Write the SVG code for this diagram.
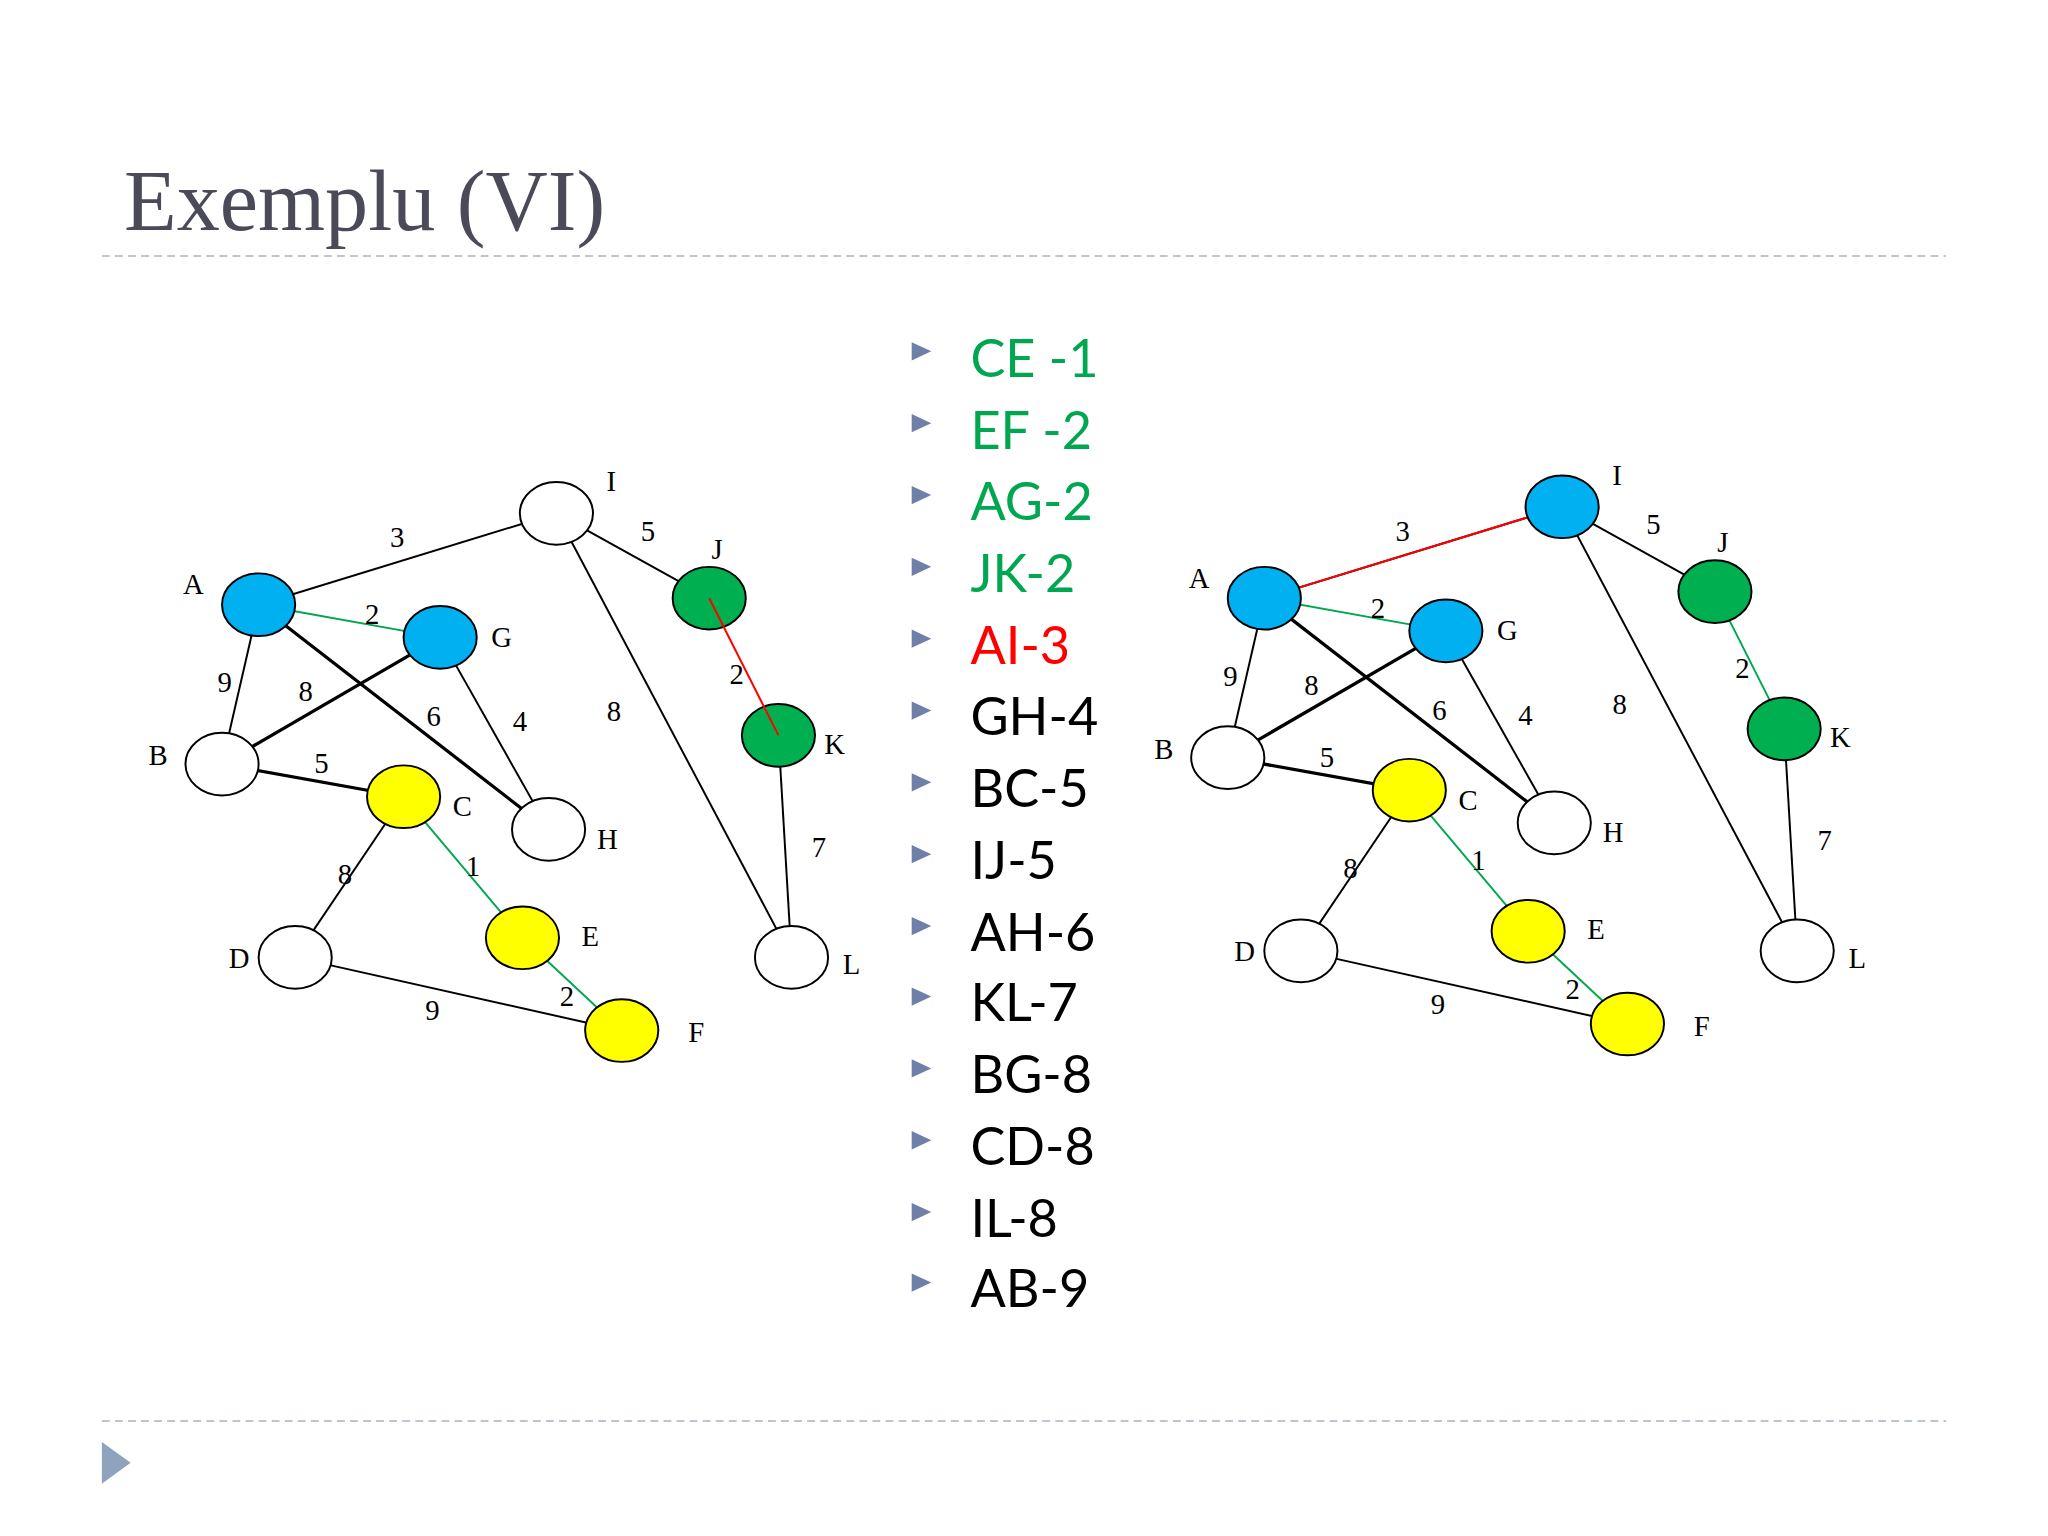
<svg xmlns="http://www.w3.org/2000/svg" width="2048" height="1536" viewBox="0 0 2048 1536">
<defs>
<style>
.n{stroke:#000;stroke-width:1.5}
.w{fill:#fff}.b{fill:#00b0f0}.y{fill:#ffff00}.g{fill:#00b050}
.e{stroke:#000;stroke-width:1.5;fill:none}
.t{stroke-width:2.5}
.eg{stroke:#00a650}.er{stroke:#ff0000}
.lb{font-family:"Liberation Serif",serif;font-size:22px;fill:#000}
.li{font-family:Lato,"Liberation Sans",sans-serif;font-size:40px}
.tri{fill:#6e7fa8}
</style>
<g id="graph">
<g id="edges">
<line class="e" x1="198" y1="463" x2="426" y2="393"/>
<line class="e eg" x1="198" y1="463" x2="337" y2="488"/>
<line class="e" x1="198" y1="463" x2="170" y2="585"/>
<line class="e t" x1="198" y1="463" x2="420" y2="635"/>
<line class="e t" x1="337" y1="488" x2="170" y2="585"/>
<line class="e" x1="337" y1="488" x2="420" y2="635"/>
<line class="e t" x1="170" y1="585" x2="309" y2="610"/>
<line class="e" x1="426" y1="393" x2="543" y2="458"/>
<line class="e" x1="426" y1="393" x2="606" y2="733"/>
<line class="e" x1="596" y1="563" x2="606" y2="733"/>
<line class="e" x1="309" y1="610" x2="226" y2="733"/>
<line class="e eg" x1="309" y1="610" x2="400" y2="718"/>
<line class="e eg" x1="400" y1="718" x2="476" y2="789"/>
<line class="e" x1="226" y1="733" x2="476" y2="789"/>
</g>
<g class="lb">
<text x="304" y="419" text-anchor="middle">3</text><text x="496" y="414" text-anchor="middle">5</text>
<text x="285" y="478" text-anchor="middle">2</text><text x="172" y="530" text-anchor="middle">9</text>
<text x="234" y="537" text-anchor="middle">8</text><text x="332" y="556" text-anchor="middle">6</text>
<text x="398" y="560" text-anchor="middle">4</text><text x="470" y="552" text-anchor="middle">8</text>
<text x="564" y="524" text-anchor="middle">2</text><text x="246" y="592" text-anchor="middle">5</text>
<text x="627" y="656" text-anchor="middle">7</text><text x="264" y="677" text-anchor="middle">8</text>
<text x="362" y="671" text-anchor="middle">1</text><text x="331" y="781" text-anchor="middle">9</text>
<text x="434" y="770" text-anchor="middle">2</text>
<text x="468" y="376" text-anchor="middle">I</text><text x="549" y="428" text-anchor="middle">J</text>
<text x="148" y="455" text-anchor="middle">A</text><text x="384" y="495" text-anchor="middle">G</text>
<text x="639" y="577" text-anchor="middle">K</text><text x="121" y="586" text-anchor="middle">B</text>
<text x="354" y="625" text-anchor="middle">C</text><text x="465" y="650" text-anchor="middle">H</text>
<text x="452" y="724" text-anchor="middle">E</text><text x="183" y="741" text-anchor="middle">D</text>
<text x="652" y="746" text-anchor="middle">L</text><text x="533" y="798" text-anchor="middle">F</text>
</g>
</g>
</defs>
<rect width="2048" height="1536" fill="#fff"/>
<g transform="scale(1.30612)">
<text x="95" y="176" font-family="Liberation Serif,serif" font-size="66" fill="#4a4a58">Exemplu (VI)</text>
<line x1="78" y1="196" x2="1490" y2="196" stroke="#a8b2c0" stroke-width="1.2" stroke-dasharray="6,4"/>
<line x1="78" y1="1088" x2="1490" y2="1088" stroke="#a8b2c0" stroke-width="1.2" stroke-dasharray="6,4"/>
<polygon points="78,1104 78,1136 100,1120" fill="#8fa3bf"/>

<g id="left">
<use href="#graph"/>
<g id="lnodes">
<g id="L_A"><ellipse class="n b" cx="198" cy="463" rx="28" ry="24"/></g>
<g id="L_G"><ellipse class="n b" cx="337" cy="488" rx="28" ry="24"/></g>
<g id="L_I"><ellipse class="n w" cx="426" cy="393" rx="28" ry="24"/></g>
<g id="L_J"><ellipse class="n g" cx="543" cy="458" rx="28" ry="24"/></g>
<g id="L_K"><ellipse class="n g" cx="596" cy="563" rx="28" ry="24"/></g>
<g id="L_B"><ellipse class="n w" cx="170" cy="585" rx="28" ry="24"/></g>
<g id="L_C"><ellipse class="n y" cx="309" cy="610" rx="28" ry="24"/></g>
<g id="L_H"><ellipse class="n w" cx="420" cy="635" rx="28" ry="24"/></g>
<g id="L_D"><ellipse class="n w" cx="226" cy="733" rx="28" ry="24"/></g>
<g id="L_E"><ellipse class="n y" cx="400" cy="718" rx="28" ry="24"/></g>
<g id="L_F"><ellipse class="n y" cx="476" cy="789" rx="28" ry="24"/></g>
<g id="L_L"><ellipse class="n w" cx="606" cy="733" rx="28" ry="24"/></g>
</g>
<line class="e er" x1="543" y1="458" x2="596" y2="563" stroke-width="1.5" transform="translate(0,0)"/>
</g>

<g id="right" transform="translate(770,-5)">
<use href="#graph"/>
<line class="e er" x1="198" y1="463" x2="426" y2="393"/>
<line class="e eg" x1="543" y1="458" x2="596" y2="563"/>
<g id="R_A"><ellipse class="n b" cx="198" cy="463" rx="28" ry="24"/></g>
<g id="R_G"><ellipse class="n b" cx="337" cy="488" rx="28" ry="24"/></g>
<g id="R_I"><ellipse class="n b" cx="426" cy="393" rx="28" ry="24"/></g>
<g id="R_J"><ellipse class="n g" cx="543" cy="458" rx="28" ry="24"/></g>
<g id="R_K"><ellipse class="n g" cx="596" cy="563" rx="28" ry="24"/></g>
<g id="R_B"><ellipse class="n w" cx="170" cy="585" rx="28" ry="24"/></g>
<g id="R_C"><ellipse class="n y" cx="309" cy="610" rx="28" ry="24"/></g>
<g id="R_H"><ellipse class="n w" cx="420" cy="635" rx="28" ry="24"/></g>
<g id="R_D"><ellipse class="n w" cx="226" cy="733" rx="28" ry="24"/></g>
<g id="R_E"><ellipse class="n y" cx="400" cy="718" rx="28" ry="24"/></g>
<g id="R_F"><ellipse class="n y" cx="476" cy="789" rx="28" ry="24"/></g>
<g id="R_L"><ellipse class="n w" cx="606" cy="733" rx="28" ry="24"/></g>
</g>

<g id="list" class="li">
<g fill="#00a650">
<text x="743" y="289">CE -1</text><text x="743" y="344">EF -2</text>
<text x="743" y="398">AG-2</text><text x="743" y="453">JK-2</text>
</g>
<text x="743" y="508" fill="#ff0000">AI-3</text>
<g fill="#000">
<text x="743" y="563">GH-4</text><text x="743" y="618">BC-5</text>
<text x="743" y="673">IJ-5</text><text x="743" y="728">AH-6</text>
<text x="743" y="782">KL-7</text><text x="743" y="837">BG-8</text>
<text x="743" y="892">CD-8</text><text x="743" y="947">IL-8</text>
<text x="743" y="1001">AB-9</text>
</g>
<g class="tri">
<polygon points="698,262 698,276 713,269"/><polygon points="698,317 698,331 713,324"/>
<polygon points="698,372 698,386 713,379"/><polygon points="698,427 698,441 713,434"/>
<polygon points="698,482 698,496 713,489"/><polygon points="698,537 698,551 713,544"/>
<polygon points="698,592 698,606 713,599"/><polygon points="698,647 698,661 713,654"/>
<polygon points="698,702 698,716 713,709"/><polygon points="698,756 698,770 713,763"/>
<polygon points="698,811 698,825 713,818"/><polygon points="698,866 698,880 713,873"/>
<polygon points="698,921 698,935 713,928"/><polygon points="698,975 698,989 713,982"/>
</g>
</g>
</g>
</svg>
